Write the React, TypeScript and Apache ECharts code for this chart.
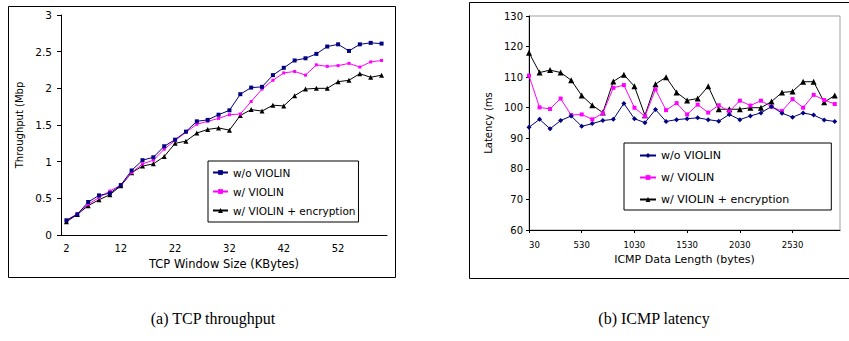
import React, { useEffect, useRef } from "react";
import * as echarts from "echarts";

// ---- (a) TCP throughput ----
const tcpWindowSizes = [2, 4, 6, 8, 10, 12, 14, 16, 18, 20, 22, 24, 26, 28, 30, 32, 34, 36, 38, 40, 42, 44, 46, 48, 50, 52, 54, 56, 58, 60];
const tcpWithoutViolin = [0.2, 0.28, 0.45, 0.54, 0.57, 0.68, 0.88, 1.02, 1.06, 1.21, 1.3, 1.41, 1.55, 1.57, 1.64, 1.7, 1.92, 2.01, 2.02, 2.18, 2.28, 2.38, 2.41, 2.47, 2.57, 2.6, 2.51, 2.6, 2.62, 2.61];
const tcpWithViolin = [0.2, 0.29, 0.42, 0.51, 0.6, 0.68, 0.85, 0.97, 1.02, 1.17, 1.29, 1.4, 1.51, 1.55, 1.59, 1.64, 1.65, 1.82, 1.99, 2.11, 2.21, 2.23, 2.18, 2.32, 2.3, 2.31, 2.34, 2.29, 2.36, 2.38];
const tcpWithEncryption = [0.18, 0.28, 0.4, 0.48, 0.55, 0.67, 0.85, 0.94, 0.97, 1.07, 1.25, 1.28, 1.39, 1.44, 1.46, 1.43, 1.63, 1.71, 1.69, 1.77, 1.76, 1.9, 1.99, 2.0, 2.0, 2.09, 2.11, 2.2, 2.15, 2.18];

// ---- (b) ICMP latency ----
const icmpLengths = [30, 130, 230, 330, 430, 530, 630, 730, 830, 930, 1030, 1130, 1230, 1330, 1430, 1530, 1630, 1730, 1830, 1930, 2030, 2130, 2230, 2330, 2430, 2530, 2630, 2730, 2830, 2930];
const icmpWithoutViolin = [93.6, 96.2, 93.1, 95.8, 97.3, 93.9, 94.8, 95.8, 96.2, 101.4, 96.4, 95.1, 99.4, 95.5, 96.1, 96.4, 96.7, 96.1, 95.6, 97.8, 96.1, 97.3, 98.3, 100.4, 98.2, 96.9, 98.3, 97.6, 96.0, 95.5];
const icmpWithViolin = [110.5, 100.1, 99.6, 103.0, 97.6, 97.8, 96.2, 98.2, 106.5, 107.4, 100.0, 97.2, 106.0, 99.2, 101.5, 97.8, 101.0, 98.4, 100.8, 98.8, 102.3, 100.7, 102.3, 100.3, 98.9, 102.8, 100.0, 104.2, 102.5, 101.2];
const icmpWithEncryption = [118.0, 111.5, 112.3, 111.5, 109.0, 104.0, 100.8, 98.4, 108.6, 110.8, 107.0, 97.5, 107.7, 110.0, 105.0, 102.4, 103.0, 107.0, 99.5, 99.5, 99.5, 100.0, 100.0, 102.0, 105.0, 105.3, 108.5, 108.5, 101.8, 104.0];

const seriesNames = ["w/o VIOLIN", "w/ VIOLIN", "w/ VIOLIN + encryption"];
const seriesColors = ["#000080", "#ff00ff", "#000000"];
const tcpYTicks = { min: 0, max: 3, interval: 0.5 };
const icmpYTicks = { min: 60, max: 130, interval: 10 };

const FONT = "DejaVu Sans";

function tcpOption(): any {
  const symbols = ["rect", "rect", "triangle"];
  const sizes = [4, 3, 5];
  const data = [tcpWithoutViolin, tcpWithViolin, tcpWithEncryption];
  return {
    animation: false,
    backgroundColor: "#ffffff",
    textStyle: { fontFamily: FONT },
    grid: { left: 61, right: 33, top: 15, bottom: 106 },
    legend: {
      orient: "vertical",
      left: 208,
      top: 161,
      padding: [6, 3, 6, 4],
      itemGap: 8,
      itemWidth: 15,
      itemHeight: 6,
      borderColor: "#000",
      borderWidth: 1,
      backgroundColor: "#fff",
      textStyle: { fontFamily: FONT, fontSize: 10.5, color: "#000" },
      data: seriesNames,
    },
    xAxis: {
      type: "category",
      data: tcpWindowSizes.map(String),
      boundaryGap: true,
      name: "TCP Window Size (KBytes)",
      nameLocation: "middle",
      nameGap: 16,
      nameTextStyle: { fontFamily: FONT, fontSize: 11.5, color: "#000" },
      axisLine: { lineStyle: { color: "#000", width: 1 } },
      axisTick: { interval: 4, length: 4, lineStyle: { color: "#000" } },
      axisLabel: { interval: 4, margin: 8, fontFamily: FONT, fontSize: 10, color: "#000" },
      splitLine: { show: false },
    },
    yAxis: {
      type: "value",
      min: tcpYTicks.min,
      max: tcpYTicks.max,
      interval: tcpYTicks.interval,
      name: "Throughput (Mbp",
      nameLocation: "middle",
      nameRotate: 90,
      nameGap: 31,
      nameTextStyle: { fontFamily: FONT, fontSize: 10, color: "#000" },
      axisLine: { show: true, lineStyle: { color: "#000", width: 1 } },
      axisTick: { show: true, length: 4, lineStyle: { color: "#000" } },
      axisLabel: { margin: 9, fontFamily: FONT, fontSize: 10.5, color: "#000" },
      splitLine: { show: false },
    },
    series: seriesNames.map((name, i) => ({
      name,
      type: "line",
      data: data[i],
      symbol: symbols[i],
      symbolSize: sizes[i],
      showAllSymbol: true,
      lineStyle: { color: seriesColors[i], width: 1 },
      itemStyle: { color: seriesColors[i] },
      z: 3 - i,
    })),
    graphic: [
      {
        type: "rect",
        shape: { x: 8.5, y: 6.5, width: 387, height: 271 },
        style: { fill: "none", stroke: "#000", lineWidth: 1 },
        silent: true,
      },
      {
        type: "text",
        x: 213,
        y: 318,
        style: {
          text: "(a) TCP throughput",
          font: "16px 'Liberation Serif'",
          fill: "#000",
          textAlign: "center",
          textVerticalAlign: "middle",
        },
      },
    ],
  };
}

function icmpOption(): any {
  const symbols = ["diamond", "rect", "triangle"];
  const sizes = [5, 4, 6];
  const data = [icmpWithoutViolin, icmpWithViolin, icmpWithEncryption];
  return {
    animation: false,
    backgroundColor: "#ffffff",
    textStyle: { fontFamily: FONT },
    grid: {
      left: 109,
      right: 9,
      top: 16,
      bottom: 111,
      show: true,
      borderColor: "#a0a0a0",
      borderWidth: 1,
    },
    legend: {
      orient: "vertical",
      left: 204,
      top: 143,
      padding: [7, 42, 5, 15],
      itemGap: 11,
      itemWidth: 16,
      itemHeight: 6,
      borderColor: "#000",
      borderWidth: 1,
      backgroundColor: "#fff",
      textStyle: { fontFamily: FONT, fontSize: 11, color: "#000" },
      data: seriesNames,
    },
    xAxis: {
      type: "value",
      min: 0,
      max: 29.5,
      interval: 5,
      name: "ICMP Data Length (bytes)",
      nameLocation: "middle",
      nameGap: 23,
      nameTextStyle: { fontFamily: FONT, fontSize: 11, color: "#000" },
      axisLine: { lineStyle: { color: "#000", width: 1 } },
      axisTick: { show: true, length: 3, lineStyle: { color: "#000" } },
      axisLabel: {
        margin: 10,
        fontFamily: FONT,
        fontSize: 8.5,
        color: "#000",
        showMaxLabel: false,
        alignMinLabel: "left",
        formatter: (v: number) =>
          Number.isInteger(v) && v % 5 === 0 && icmpLengths[v] !== undefined ? String(icmpLengths[v]) : "",
      },
      splitLine: { show: false },
    },
    yAxis: {
      type: "value",
      min: icmpYTicks.min,
      max: icmpYTicks.max,
      interval: icmpYTicks.interval,
      name: "Latency (ms",
      nameLocation: "middle",
      nameRotate: 90,
      nameGap: 36,
      nameTextStyle: { fontFamily: FONT, fontSize: 10, color: "#000" },
      axisLine: { show: true, lineStyle: { color: "#000", width: 1 } },
      axisTick: { show: true, length: 3, lineStyle: { color: "#000" } },
      axisLabel: { margin: 6, fontFamily: FONT, fontSize: 10, color: "#000" },
      splitLine: { show: false },
    },
    series: seriesNames.map((name, i) => ({
      name,
      type: "line",
      data: data[i].map((v, k) => [k, v]),
      symbol: symbols[i],
      symbolSize: sizes[i],
      showAllSymbol: true,
      lineStyle: { color: seriesColors[i], width: 1 },
      itemStyle: { color: seriesColors[i] },
      z: 3 - i,
    })),
    graphic: [
      {
        type: "rect",
        shape: { x: 49.5, y: 2.5, width: 420, height: 276 },
        style: { fill: "none", stroke: "#000", lineWidth: 1 },
        silent: true,
      },
      {
        type: "text",
        x: 234,
        y: 318,
        style: {
          text: "(b) ICMP latency",
          font: "16px 'Liberation Serif'",
          fill: "#000",
          textAlign: "center",
          textVerticalAlign: "middle",
        },
      },
    ],
  };
}

function Chart({ option, left, width }: { option: any; left: number; width: number }) {
  const ref = useRef<HTMLDivElement>(null);
  useEffect(() => {
    if (!ref.current) return;
    const chart = echarts.init(ref.current, undefined, { renderer: "svg" });
    chart.setOption(option);
    return () => chart.dispose();
  }, []);
  return (
    <div
      ref={ref}
      style={{ position: "absolute", left, top: 0, width, height: 341, overflow: "hidden" }}
    />
  );
}

export default function App() {
  return (
    <div style={{ position: "absolute", left: 0, top: 0, width: 849, height: 341, background: "#fff" }}>
      <Chart option={tcpOption()} left={0} width={420} />
      <Chart option={icmpOption()} left={420} width={429} />
    </div>
  );
}
